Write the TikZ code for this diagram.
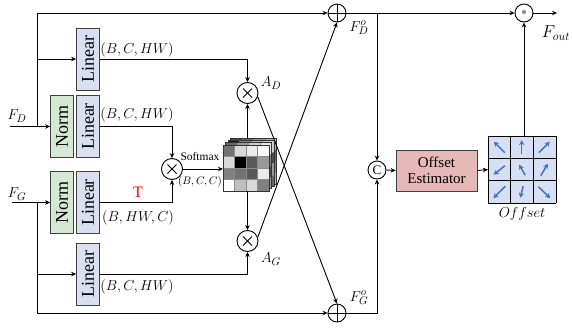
\documentclass[tikz,border=0pt]{standalone}
\usepackage{fontspec}
\setmainfont{Liberation Serif}
\usetikzlibrary{arrows.meta,calc}
\definecolor{linfill}{RGB}{218,224,242}
\definecolor{normfill}{RGB}{213,232,212}
\definecolor{offfill}{RGB}{230,184,183}
\definecolor{gridfill}{RGB}{214,224,245}
\definecolor{arrblue}{RGB}{68,114,196}
\begin{document}
\begin{tikzpicture}[x=1pt,y=-1pt,
  ln/.style={line width=0.9pt},
  arr/.style={ln,-{Stealth[length=5pt,width=4.5pt]}},
  boxbase/.style={draw=black!75,line width=0.8pt,rotate=90,inner sep=0pt,
    minimum width=62pt,minimum height=23pt,font=\fontsize{18}{18}\selectfont},
  linbox/.style={boxbase,fill=linfill},
  normbox/.style={boxbase,fill=normfill},
  opc/.style={circle,draw,line width=0.9pt,inner sep=0pt,minimum size=#1},
  lab/.style={font=\fontsize{14}{14}\selectfont,inner sep=0pt},
  blab/.style={font=\fontsize{15}{15}\selectfont,inner sep=0pt},
  barr/.style={arrblue,line width=1.5pt,-{Stealth[length=5pt,width=5.5pt]}}
]
\useasboundingbox (0,0) rectangle (573,327);

% ---- boxes
\node[linbox] (lin1) at (88,59) {Linear};
\node[normbox] (normD) at (62,126.5) {Norm};
\node[linbox] (linD) at (88,126.5) {Linear};
\node[normbox] (normG) at (62,202.5) {Norm};
\node[linbox] (linG) at (88,202.5) {Linear};
\node[linbox] (lin4) at (88,274) {Linear};

% ---- operators
\node[opc=21pt] (mD) at (247.5,93) {};
\node[opc=21pt] (mX) at (172,169) {};
\node[opc=21pt] (mG) at (247.5,241) {};
\foreach \n in {mD,mX,mG}{
  \draw[line width=1pt] ($(\n)+(-4.5,-4.5)$) -- ($(\n)+(4.5,4.5)$);
  \draw[line width=1pt] ($(\n)+(-4.5,4.5)$) -- ($(\n)+(4.5,-4.5)$);
}
\node[opc=18pt] (oplusD) at (337,13) {};
\node[opc=18pt] (oplusG) at (337,313) {};
\foreach \n in {oplusD,oplusG}{
  \draw[ln] (\n.north) -- (\n.south);
  \draw[ln] (\n.west) -- (\n.east);
}
\node[opc=18pt,font=\fontsize{12}{12}\selectfont] (star) at (524,13) {$\ast$};
\node[opc=18pt,font=\fontsize{13}{13}\selectfont] (cc) at (377,170) {C};

\node[draw=black!75,line width=0.8pt,fill=offfill,minimum width=81pt,minimum height=41pt,
  inner sep=0pt,align=center,font=\fontsize{15}{16}\selectfont] (oe) at (436.5,170.5) {Offset\\Estimator};

% ---- attention matrix
\foreach \k/\vals in {3/{70,60,40,30,10,10,10,60,10,10,10,50,10,10,10,30},
                      2/{90,50,30,20,10,10,10,70,10,10,10,40,10,10,10,60},
                      1/{60,40,20,10,10,10,10,50,10,10,10,70,10,10,10,40}}{
  \begin{scope}[shift={(2.4*\k,-2.4*\k)}]
  \foreach \v [count=\i from 0] in \vals {
    \pgfmathtruncatemacro\r{int(\i/4)}
    \pgfmathtruncatemacro\c{mod(\i,4)}
    \filldraw[fill=black!\v,draw=black!45,line width=0.4pt] (223+\c*11.5,145+\r*11.5) rectangle ++(11.5,11.5);
  }
  \draw[black!80,line width=0.5pt] (223,145) rectangle (269,191);
  \end{scope}
}
\foreach \v [count=\i from 0] in {55,15,8,3,15,100,65,40,50,55,65,8,0,25,15,50} {
  \pgfmathtruncatemacro\r{int(\i/4)}
  \pgfmathtruncatemacro\c{mod(\i,4)}
  \filldraw[fill=black!\v,draw=black!45,line width=0.4pt] (223+\c*11.5,145+\r*11.5) rectangle ++(11.5,11.5);
}
\draw[black!80,line width=0.5pt] (223,145) rectangle (269,191);
\coordinate (mtop) at (247.5,138);
\coordinate (mbot) at (247.5,191);
\coordinate (mleft) at (223,169);

% ---- offset grid
\node[minimum width=68pt,minimum height=67pt,inner sep=0pt] (grid) at (522,169.5) {};
\fill[gridfill] (grid.north west) rectangle (grid.south east);
\foreach \i in {0,1,2,3}{
  \draw[line width=0.9pt] (488+\i*22.667,136) -- (488+\i*22.667,203);
  \draw[line width=0.9pt] (488,136+\i*22.333) -- (556,136+\i*22.333);
}
\foreach \cx/\cy/\ax/\ay/\bx/\by in {
  499.3/147.2/5.5/5.5/-5.5/-5.5,
  521.7/147.2/0/7/0/-7,
  544.3/147.2/-5.5/5.5/5.5/-5.5,
  499.3/169.7/5.5/-4/-5.5/5,
  521.7/169.7/3.5/5.5/-2.5/-5,
  544.3/169.7/-3.5/6/3.5/-6,
  499.3/192.2/6/-6/-6/6,
  521.7/192.2/1.5/-6/-1.5/5.5,
  544.3/192.2/-6/-5.5/6/6}{
  \draw[barr] (\cx+\ax,\cy+\ay) -- (\cx+\bx,\cy+\by);
}
\coordinate (gtop) at (524,136);

% ---- labels
\node[blab] (lFD) at (17,116) {$F_D$};
\node[blab] (lFG) at (17,194) {$F_G$};
\node[lab] (s1) at (137,50) {$(B,C,HW)$};
\node[lab] (s2) at (137,115) {$(B,C,HW)$};
\node[lab] (s3) at (138,218) {$(B,HW,C)$};
\node[lab] (s4) at (137,287) {$(B,C,HW)$};
\node[font=\fontsize{16}{16}\selectfont,text=red,inner sep=0pt] (lT) at (138,192) {T};
\node[font=\fontsize{11.5}{11.5}\selectfont,inner sep=0pt] (lsm) at (200,157) {Softmax};
\node[font=\fontsize{10.5}{10.5}\selectfont,inner sep=0pt] (lbcc) at (200,181.5) {$(B,C,C)$};
\node[blab] (lAD) at (271,83) {$A_D$};
\node[blab] (lAG) at (271,259) {$A_G$};
\node[blab] (lFDo) at (359,28) {$F_D^o$};
\node[blab] (lFGo) at (359,298) {$F_G^o$};
\node[font=\fontsize{17}{17}\selectfont,inner sep=0pt] (lout) at (556,33) {$F_{out}$};
\node[font=\fontsize{14.5}{14.5}\selectfont,inner sep=0pt] (loff) at (522,214) {$Offset$};

% ---- connectors
\coordinate (inD) at (10,126.5);
\coordinate (jD) at (37,126.5);
\coordinate (jD2) at (37,59);
\coordinate (inG) at (12,202.5);
\coordinate (jG) at (37,202.5);
\coordinate (jG2) at (37,274);
\coordinate (brD) at (377,13);
\coordinate (outE) at (557,13);

\draw[arr] (inD) -- (normD.north);
\draw[arr] (jD) |- (oplusD.west);
\draw[arr] (jD2) -- (lin1.north);
\draw[arr] (inG) -- (normG.north);
\draw[arr] (jG) |- (oplusG.west);
\draw[arr] (jG2) -- (lin4.north);

\draw[arr] (lin1.south) -| (mD.north);
\draw[arr] (linD.south) -| (mX.north);
\draw[arr] (linG.south) -| (mX.south);
\draw[arr] (lin4.south) -| (mG.south);
\draw[arr] (mX.east) -- (mleft);
\draw[arr] (mtop) -- (mD.south);
\draw[arr] (mbot) -- (mG.north);
\draw[arr] (mD.-20) -- (oplusG.north);
\draw[arr] (mG.20) -- (oplusD.south);

\draw[arr] (oplusD.east) -- (star.west);
\draw[arr] (brD) -- (cc.north);
\draw[arr] (oplusG.east) -| (cc.south);
\draw[arr] (cc.east) -- (oe.west);
\draw[arr] (oe.east) -- (grid.west);
\draw[arr] (gtop) -- (star.south);
\draw[arr] (star.east) -- (outE);
\end{tikzpicture}
\end{document}
